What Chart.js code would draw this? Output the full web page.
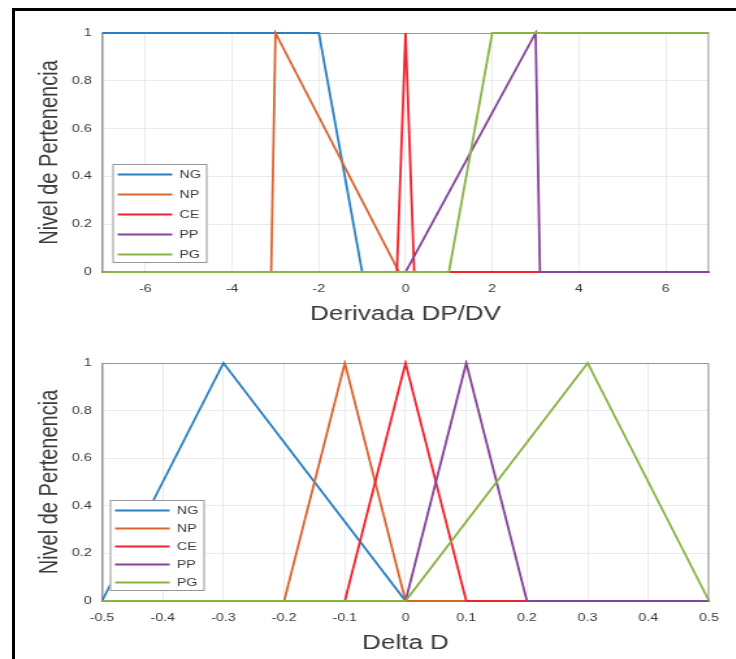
<!DOCTYPE html>
<html>
<head>
<meta charset="utf-8">
<script src="https://cdn.jsdelivr.net/npm/chart.js@4.4.1/dist/chart.umd.min.js"></script>
<style>
  html, body { margin: 0; padding: 0; background: #fff; }
  body { width: 736px; height: 659px; position: relative; overflow: hidden; }
  #frame { position: absolute; left: 12px; top: 8px; right: -10px; bottom: -10px;
           border-left: 3px solid #000; border-top: 3px solid #000; }
  /* la figura original esta estirada en horizontal, la reproducimos igual */
  .wrap { position: absolute; left: 0; width: 566px; transform: scaleX(1.3); transform-origin: 0 0; }
  #w1 { top: 0; height: 330px; }
  #w2 { top: 330px; height: 329px; }
</style>
</head>
<body>
<div id="frame"></div>
<div class="wrap" id="w1"><canvas id="chartDeriv" width="566" height="330"></canvas></div>
<div class="wrap" id="w2"><canvas id="chartDelta" width="566" height="329"></canvas></div>
<script>
// Etiquetas de los conjuntos difusos
const names = ['NG', 'NP', 'CE', 'PP', 'PG'];
const yTicks = [0, 0.2, 0.4, 0.6, 0.8, 1];

// Derivada DP/DV (grafico superior)
const derivTicks = [-6, -4, -2, 0, 2, 4, 6];
const derivNGx = [-7, -2, -1, 7];          const derivNGy = [1, 1, 0, 0];
const derivNPx = [-7, -3.1, -3, -0.15, 7]; const derivNPy = [0, 0, 1, 0, 0];
const derivCEx = [-7, -0.2, 0, 0.2, 7];    const derivCEy = [0, 0, 1, 0, 0];
const derivPPx = [-7, 0, 3, 3.1, 7];       const derivPPy = [0, 0, 1, 0, 0];
const derivPGx = [-7, 1, 2, 7];            const derivPGy = [0, 0, 1, 1];

// Delta D (grafico inferior)
const deltaTicks = [-0.5, -0.4, -0.3, -0.2, -0.1, 0, 0.1, 0.2, 0.3, 0.4, 0.5];
const deltaNGx = [-0.5, -0.3, 0, 0.5];          const deltaNGy = [0, 1, 0, 0];
const deltaNPx = [-0.5, -0.2, -0.1, 0, 0.5];    const deltaNPy = [0, 0, 1, 0, 0];
const deltaCEx = [-0.5, -0.1, 0, 0.1, 0.5];     const deltaCEy = [0, 0, 1, 0, 0];
const deltaPPx = [-0.5, 0, 0.1, 0.2, 0.5];      const deltaPPy = [0, 0, 1, 0, 0];
const deltaPGx = [-0.5, 0, 0.3, 0.5];           const deltaPGy = [0, 0, 1, 0];

// Estilos
const colors = ['#2a7fc4', '#d9652f', '#f0222e', '#83449a', '#8ab244'];
const fontFam = '"Liberation Sans", Arial, sans-serif';
const textColor = '#3a3a3a';
const gridColor = '#ebebeb';
const axisColor = '#959595';

const fmt = v => String(+Number(v).toFixed(1));

function toPoints(xs, ys) {
    return xs.map((x, i) => ({ x: x, y: ys[i] }));
}

// caja de ejes y leyenda por encima de las lineas (como en MATLAB)
const matlabBox = {
    id: 'matlabBox',
    afterLayout(chart, args, opts) {
        const lg = chart.legend;
        lg.top += opts.dy; lg.bottom += opts.dy;
        lg.left += opts.dx; lg.right += opts.dx;
    },
    beforeDatasetsDraw(chart) {
        const { ctx, chartArea: a } = chart;
        ctx.save();
        ctx.strokeStyle = axisColor;
        ctx.lineWidth = 1;
        ctx.strokeRect(a.left + 0.5, a.top + 0.5, a.right - a.left - 1, a.bottom - a.top - 1);
        ctx.restore();
    },
    afterDatasetsDraw(chart) {
        const lg = chart.legend;
        const hb = lg.legendHitBoxes;
        if (!hb || !hb.length) return;
        const { ctx } = chart;
        const l = Math.min(...hb.map(h => h.left)) - 4;
        const r = Math.max(...hb.map(h => h.left + h.width)) + 5;
        const t = hb[0].top - 5;
        const b = hb[hb.length - 1].top + hb[hb.length - 1].height + 3;
        ctx.save();
        ctx.fillStyle = '#fff';
        ctx.fillRect(l, t, r - l, b - t);
        ctx.strokeStyle = axisColor;
        ctx.lineWidth = 1;
        ctx.strokeRect(l + 0.5, t + 0.5, r - l - 1, b - t - 1);
        ctx.restore();
        lg.draw();
    }
};

function makeChart(id, xsList, ysList, xMin, xMax, xTicks, xTitle, legendPad, legendDy) {
    const ctx = document.getElementById(id).getContext('2d');
    return new Chart(ctx, {
        type: 'line',
        data: {
            datasets: names.map((n, i) => ({
                label: n,
                data: toPoints(xsList[i], ysList[i]),
                borderColor: colors[i],
                backgroundColor: colors[i],
                borderWidth: 1.8,
                pointRadius: 0,
                tension: 0,
                clip: 3,
                order: names.length - i
            }))
        },
        options: {
            responsive: false,
            animation: false,
            layout: { padding: { left: 0, top: 33, right: 20.6, bottom: 3 } },
            plugins: {
                tooltip: { enabled: false },
                matlabBox: { dx: 3, dy: legendDy },
                legend: {
                    position: 'chartArea',
                    align: 'end',
                    labels: {
                        usePointStyle: true,
                        pointStyle: 'line',
                        pointStyleWidth: 42,
                        boxWidth: 42,
                        boxHeight: 11,
                        padding: legendPad,
                        color: textColor,
                        font: { family: fontFam, size: 11 },
                        sort: (a, b) => a.datasetIndex - b.datasetIndex
                    }
                }
            },
            scales: {
                x: {
                    type: 'linear',
                    min: xMin,
                    max: xMax,
                    afterBuildTicks: s => { s.ticks = xTicks.map(v => ({ value: v })); },
                    afterFit: s => { s.height = 55; },
                    grid: { color: gridColor, drawTicks: false },
                    border: { display: true, color: axisColor },
                    ticks: { padding: 10, color: textColor, font: { family: fontFam, size: 11 }, callback: fmt, maxRotation: 0 },
                    title: { display: true, text: xTitle, color: textColor, font: { family: fontFam, size: 20 }, padding: { top: 0, bottom: 1 } }
                },
                y: {
                    min: 0,
                    max: 1,
                    afterBuildTicks: s => { s.ticks = yTicks.map(v => ({ value: v })); },
                    afterFit: s => { s.width = 78.5; },
                    grid: { color: gridColor, drawTicks: false },
                    border: { display: true, color: axisColor },
                    ticks: { padding: 8, color: textColor, font: { family: fontFam, size: 11 }, callback: fmt },
                    title: { display: true, text: 'Nivel de Pertenencia', color: textColor, font: { family: fontFam, size: 20 }, padding: { top: 26.5, bottom: 0 } }
                }
            }
        },
        plugins: [matlabBox]
    });
}

makeChart('chartDeriv',
    [derivNGx, derivNPx, derivCEx, derivPPx, derivPGx],
    [derivNGy, derivNPy, derivCEy, derivPPy, derivPGy],
    -7, 7, derivTicks, 'Derivada DP/DV', 9, 30);

makeChart('chartDelta',
    [deltaNGx, deltaNPx, deltaCEx, deltaPPx, deltaPGx],
    [deltaNGy, deltaNPy, deltaCEy, deltaPPy, deltaPGy],
    -0.5, 0.5, deltaTicks, 'Delta D', 7, 27);
</script>
</body>
</html>
